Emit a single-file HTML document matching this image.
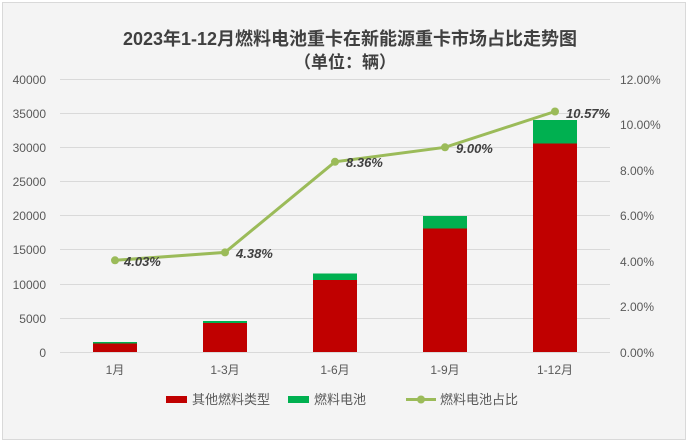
<!DOCTYPE html>
<html><head><meta charset="utf-8"><style>
body{margin:0;background:#fff;}
svg{display:block;font-family:"Liberation Sans","Noto Sans CJK SC",sans-serif;}
</style></head><body>
<svg width="689" height="443" viewBox="0 0 689 443">
<rect x="2.5" y="2.5" width="683" height="437" fill="#f4f4f4" stroke="#d9d9d9"/>
<text x="350" y="45" text-anchor="middle" font-size="18" font-weight="bold" fill="#404040">2023年1-12月燃料电池重卡在新能源重卡市场占比走势图</text>
<text x="345" y="68" text-anchor="middle" font-size="17" font-weight="bold" fill="#404040">（单位：辆）</text>
<g stroke="#d9d9d9" stroke-width="1">
<line x1="60" x2="610" y1="79.5" y2="79.5"/><line x1="60" x2="610" y1="113.5" y2="113.5"/>
<line x1="60" x2="610" y1="147.5" y2="147.5"/><line x1="60" x2="610" y1="181.5" y2="181.5"/>
<line x1="60" x2="610" y1="215.5" y2="215.5"/><line x1="60" x2="610" y1="249.5" y2="249.5"/>
<line x1="60" x2="610" y1="284.5" y2="284.5"/><line x1="60" x2="610" y1="318.5" y2="318.5"/>
<line x1="60" x2="610" y1="352.5" y2="352.5"/>
</g>
<g font-size="12" fill="#595959" text-anchor="end">
<text x="46" y="84">40000</text><text x="46" y="118">35000</text><text x="46" y="152">30000</text>
<text x="46" y="186">25000</text><text x="46" y="220">20000</text><text x="46" y="254">15000</text>
<text x="46" y="289">10000</text><text x="46" y="323">5000</text><text x="46" y="357">0</text>
</g>
<g font-size="12" fill="#595959" text-anchor="start">
<text x="620" y="84">12.00%</text><text x="620" y="129">10.00%</text><text x="620" y="175">8.00%</text>
<text x="620" y="220">6.00%</text><text x="620" y="266">4.00%</text><text x="620" y="311">2.00%</text>
<text x="620" y="357">0.00%</text>
</g>
<g fill="#00b050">
<rect x="93" y="342" width="44" height="2"/><rect x="203" y="321" width="44" height="2"/>
<rect x="313" y="273.5" width="44" height="6.5"/><rect x="423" y="216" width="44" height="12.5"/>
<rect x="533" y="120" width="44" height="23.5"/>
</g>
<g fill="#c00000">
<rect x="93" y="343.5" width="44" height="8.5"/><rect x="203" y="323" width="44" height="29"/>
<rect x="313" y="280" width="44" height="72"/><rect x="423" y="228.5" width="44" height="123.5"/>
<rect x="533" y="143.5" width="44" height="208.5"/>
</g>
<polyline points="115,260.3 225,252.4 335,161.8 445,147.3 555,111.5" fill="none" stroke="#9bbb59" stroke-width="3"/>
<g fill="#9bbb59">
<circle cx="115" cy="260.3" r="4"/><circle cx="225" cy="252.4" r="4"/><circle cx="335" cy="161.8" r="4"/>
<circle cx="445" cy="147.3" r="4"/><circle cx="555" cy="111.5" r="4"/>
</g>
<g font-size="13" font-weight="bold" font-style="italic" fill="#404040">
<text x="124" y="266">4.03%</text><text x="236" y="258">4.38%</text><text x="346" y="167">8.36%</text>
<text x="456" y="153">9.00%</text><text x="566" y="118">10.57%</text>
</g>
<g font-size="12" fill="#595959" text-anchor="middle">
<text x="115" y="374">1月</text><text x="225" y="374">1-3月</text><text x="335" y="374">1-6月</text>
<text x="445" y="374">1-9月</text><text x="555" y="374">1-12月</text>
</g>
<rect x="166" y="396" width="21" height="7" fill="#c00000"/>
<text x="192" y="404" font-size="13" fill="#595959">其他燃料类型</text>
<rect x="288" y="396" width="21" height="7" fill="#00b050"/>
<text x="314" y="404" font-size="13" fill="#595959">燃料电池</text>
<line x1="406" x2="436" y1="399.5" y2="399.5" stroke="#9bbb59" stroke-width="3"/>
<circle cx="421" cy="399.5" r="4" fill="#9bbb59"/>
<text x="440" y="404" font-size="13" fill="#595959">燃料电池占比</text>
</svg>
</body></html>
